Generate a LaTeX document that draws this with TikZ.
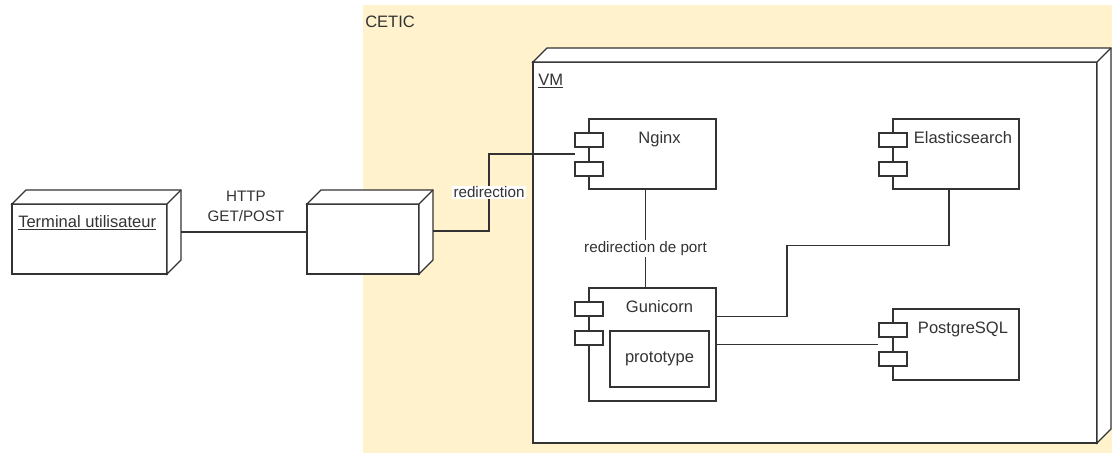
\documentclass[tikz,border=0pt]{standalone}
\usepackage{fontspec}
\setmainfont{Liberation Sans}
\usetikzlibrary{calc}
\definecolor{ink}{HTML}{333333}
\definecolor{cetic}{HTML}{FFF2CC}
\newcommand{\nodefont}{\fontsize{12.4}{14}\selectfont}
\newcommand{\edgefont}{\fontsize{11.4}{15}\selectfont}

\tikzset{
  wire/.style={draw=ink, line width=1pt},
  shape3d/.style 2 args={wire, fill=white, anchor=north west, inner sep=0pt, outer sep=0pt,
    minimum width=#1*0.75pt, minimum height=#2*0.75pt},
  port/.style={shape3d={28}{14}},
  txt/.style={font=\nodefont, text=ink, inner sep=0pt, anchor=base},
  edgetxt/.style={font=\edgefont, text=ink, inner sep=1pt},
}

% top and right faces of a 3d box
\newcommand{\boxfaces}[1]{%
  \filldraw[wire, fill=white] (#1.north west) -- ++(14,-14) -| ([shift={(14,-14)}]#1.south east)
    -- (#1.south east) -- (#1.north east) -- cycle;
  \draw[wire] (#1.north east) -- ++(14,-14);}
% the two little port boxes on the left side of a component
\newcommand{\addports}[1]{%
  \node[port] (#1 p1) at ([shift={(-14,14)}]#1.north west) {};
  \node[port] (#1 p2) at ([shift={(-14,43)}]#1.north west) {};}

\begin{document}
\begin{tikzpicture}[x=0.75pt, y=-0.75pt]
\useasboundingbox (0,0) rectangle (1118,454);
\fill[cetic] (363,5) rectangle (1112,453);
\node[txt, anchor=base west] (cetic) at (365,27) {CETIC};

\node[shape3d={155}{70}] (term) at (12,204) {};
\boxfaces{term}
\node[txt, anchor=base west] (term txt) at (18,227) {\underline{Terminal utilisateur}};
\node[shape3d={112}{70}] (gw) at (307,204) {};
\boxfaces{gw}

\node[shape3d={564}{381}] (vm) at (533,62) {};
\boxfaces{vm}
\node[txt, anchor=base west] (vm txt) at (538,85) {\underline{VM}};

\node[shape3d={127}{70}] (nginx) at (589,119) {};
\addports{nginx}
\node[txt] (nginx txt) at ([shift={(7,24)}]nginx.north) {Nginx};

\node[shape3d={126}{70}] (elastic) at (893,119) {};
\addports{elastic}
\node[txt] (elastic txt) at ([shift={(7,24)}]elastic.north) {Elasticsearch};

\node[shape3d={127}{113}] (gunicorn) at (589,288) {};
\addports{gunicorn}
\node[txt] (gunicorn txt) at ([shift={(7,24)}]gunicorn.north) {Gunicorn};
\node[shape3d={99}{56}, font=\nodefont, text=ink] (proto) at (610,331) {prototype};

\node[shape3d={126}{71}] (postgres) at (893,309) {};
\addports{postgres}
\node[txt] (postgres txt) at ([shift={(7,24)}]postgres.north) {PostgreSQL};

% connectors
\draw[wire] ([shift={(14,-7)}]term.east) -- ([shift={(0,-7)}]gw.west);
\node[edgetxt, align=center] (http) at (246,206) {HTTP\\GET/POST};
\draw[wire] ([shift={(14,-8)}]gw.east) -- ++(56,0)
  |- node[edgetxt, pos=.25, fill=white] (redir) {redirection} ([shift={(-14,0)}]nginx.west);
\draw[wire] ([shift={(-7,0)}]nginx.south)
  -- node[edgetxt, pos=.6, fill=white] (redir port) {redirection de port} ([shift={(-7,0)}]gunicorn.north);
\draw[wire] ($(gunicorn.north east)!.25!(gunicorn.south east)$) -- ++(71,0) -- ++(0,-71)
  -| ([shift={(-7,0)}]elastic.south);
\draw[wire] (gunicorn.east) -- ([shift={(-15,0)}]postgres.west);
\end{tikzpicture}
\end{document}
